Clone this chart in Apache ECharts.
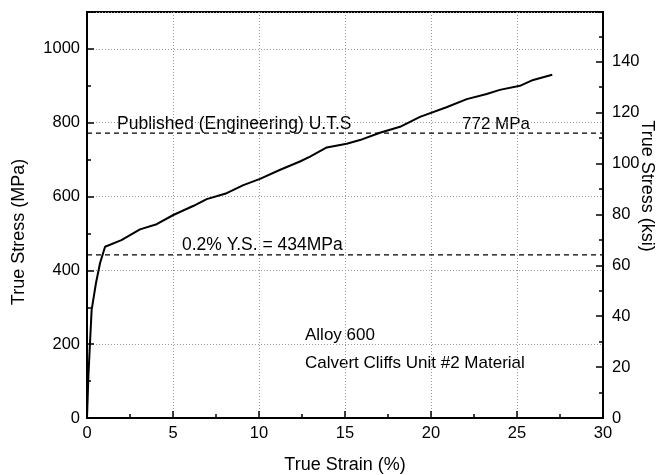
<!DOCTYPE html>
<html>
<head>
<meta charset="utf-8">
<script src="https://cdn.jsdelivr.net/npm/echarts@6/dist/echarts.min.js"></script>
<style>
  html, body { margin: 0; padding: 0; background: #fff; }
  #chart { width: 657px; height: 475px; }
</style>
</head>
<body>
<div id="chart"></div>
<script>
// 真应变(%) / 真应力(MPa)
const strainPct = [0, 0.08, 0.17, 0.27, 0.52, 0.76, 1.05, 2.0, 3.08, 4.05, 5.02, 6.2, 6.96, 8.12, 9.09,
    10.06, 11.2, 12.38, 12.97, 13.94, 15.1, 15.87, 17.03, 18.2, 19.36, 20.9, 22.08, 23.24, 24.0, 25.17, 25.94, 27.05];
const stressMPa = [0, 112, 200, 293, 365, 420, 464, 482, 511, 525, 550, 575, 593, 609, 631,
    648, 672, 695, 708, 733, 743, 753, 773, 789, 816, 842, 864, 878, 889, 900, 916, 930];

const utsLevel = 772;   // Published (Engineering) U.T.S
const ysLevel = 442;    // 0.2% Y.S. 线在图上的位置
const refLineX = [0, 30];

const MPA_PER_KSI = 6.895;
const stressMax = 1100;

moduleInit();

function moduleInit() {
    const chart = echarts.init(document.getElementById('chart'));
    const font = 'Liberation Sans, Arial, sans-serif';

    let curve = [];
    for (let i = 0; i < strainPct.length; i++) {
        curve.push([strainPct[i], stressMPa[i]]);
    }

    const dashed = function (level) {
        return {
            type: 'line',
            data: refLineX.map(function (x) { return [x, level]; }),
            symbol: 'none',
            silent: true,
            lineStyle: {color: '#000', width: 1.3, type: [5, 4]}
        };
    };

    const axisCommon = {
        axisLine: {show: true, onZero: false, lineStyle: {color: '#000', width: 2}},
        axisTick: {show: true, inside: true, length: 7, lineStyle: {color: '#000', width: 1.5}},
        minorTick: {show: true, splitNumber: 2, length: 4, lineStyle: {color: '#000', width: 1.5}},
        axisLabel: {color: '#000', fontSize: 16.5, fontFamily: font}
    };

    // 文字标注
    const txt = function (s, x, y, size, rot) {
        return {
            type: 'text', x: x, y: y, rotation: rot || 0,
            style: {text: s, font: size + 'px ' + font, fill: '#000',
                align: rot ? 'center' : (size === 18 ? 'center' : 'left'), verticalAlign: 'middle'}
        };
    };

    let option = {
        animation: false,
        backgroundColor: '#fff',
        grid: {
            left: 87, right: 54, top: 12, bottom: 57,
            show: true, borderColor: '#000', borderWidth: 2
        },
        xAxis: Object.assign({}, axisCommon, {
            type: 'value', min: 0, max: 30, interval: 5,
            axisLabel: Object.assign({}, axisCommon.axisLabel, {margin: 7}),
            splitLine: {show: true, lineStyle: {color: '#999', width: 1, type: [1, 2]}}
        }),
        yAxis: [
            Object.assign({}, axisCommon, {
                type: 'value', min: 0, max: stressMax, interval: 200,
                axisLabel: Object.assign({}, axisCommon.axisLabel, {
                    margin: 7,
                    formatter: function (v) { return v % 200 === 0 ? String(v) : ''; }
                }),
                splitLine: {show: true, lineStyle: {color: '#999', width: 1, type: [1, 2]}}
            }),
            Object.assign({}, axisCommon, {
                type: 'value', position: 'right', min: 0, max: stressMax / MPA_PER_KSI, interval: 20,
                axisLabel: Object.assign({}, axisCommon.axisLabel, {
                    margin: 9,
                    formatter: function (v) { return Math.abs(v % 20) < 1e-6 ? String(Math.round(v)) : ''; }
                }),
                splitLine: {show: false}
            })
        ],
        graphic: [
            txt('True Stress (MPa)', 19, 232, 18, Math.PI / 2),
            txt('True Stress (ksi)', 647, 186, 18, -Math.PI / 2),
            txt('True Strain (%)', 345, 465, 18),
            txt('Published (Engineering) U.T.S', 117, 124, 17.5),
            txt('772 MPa', 462, 124, 17),
            txt('0.2% Y.S. = 434MPa', 182, 245, 17.5),
            txt('Alloy 600', 305, 335, 17),
            txt('Calvert Cliffs Unit #2 Material', 305, 363, 17)
        ],
        series: [
            dashed(utsLevel),
            dashed(ysLevel),
            {
                type: 'line',
                data: curve,
                symbol: 'none',
                smooth: false,
                lineStyle: {color: '#000', width: 2}
            }
        ]
    };

    chart.setOption(option);
}
</script>
</body>
</html>
